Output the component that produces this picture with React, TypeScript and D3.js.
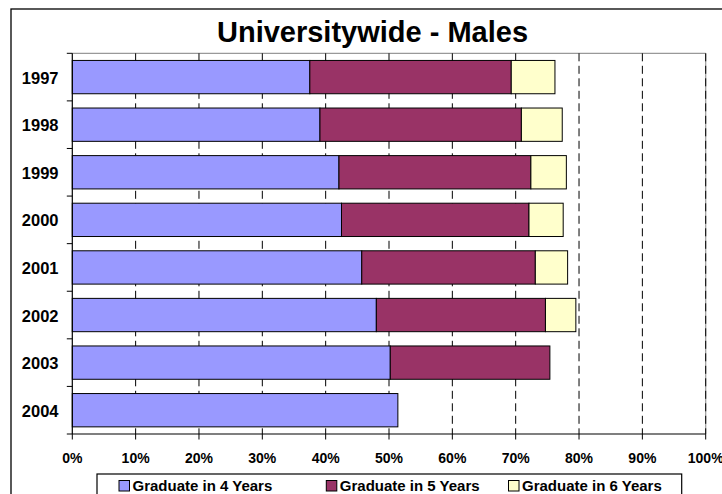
import React from "react";
import * as d3 from "d3";

const years = ["1997", "1998", "1999", "2000", "2001", "2002", "2003", "2004"];
const grad4 = [37.5, 39.1, 42.1, 42.5, 45.7, 48.0, 50.2, 51.4];
const grad5 = [31.8, 31.8, 30.3, 29.6, 27.4, 26.7, 25.2, 0];
const grad6 = [6.9, 6.45, 5.6, 5.4, 5.1, 4.8, 0, 0];
const seriesNames = ["Graduate in 4 Years", "Graduate in 5 Years", "Graduate in 6 Years"];
const seriesColors = ["#9999FF", "#993366", "#FFFFCC"];
const xTicks = [0, 10, 20, 30, 40, 50, 60, 70, 80, 90, 100];
const title = "Universitywide - Males";

const FONT = "Arial, 'Liberation Sans', Helvetica, sans-serif";

export default function App() {
  const left = 72.3, right = 705.7, top = 53.3, bottom = 434;
  const x = d3.scaleLinear().domain([0, 100]).range([left, right]);
  const y = d3.scaleBand<string>().domain(years).range([top, bottom]).paddingInner(0.3).paddingOuter(0.15);
  const step = (bottom - top) / years.length;

  const table = years.map((yr, i) => ({ year: yr, s0: grad4[i], s1: grad5[i], s2: grad6[i] }));
  const stack = d3.stack<any>().keys(["s0", "s1", "s2"]);
  const layers = stack(table);

  const legendX = [119, 326.3, 508.5];

  return (
    <svg width={722} height={494} style={{ position: "absolute", left: 0, top: 0, background: "#fff" }} fontFamily={FONT}>
      <rect x={0} y={0} width={722} height={494} fill="#fff" />
      {/* outer chart border */}
      <rect x={11} y={9} width={760} height={520} fill="#fff" stroke="#000" strokeWidth={1.3} />
      <text x={372.5} y={41.5} textAnchor="middle" fontSize={29} fontWeight="bold" fill="#000">{title}</text>

      {/* plot border */}
      <line x1={left} x2={right} y1={top} y2={top} stroke="#999" strokeWidth={1.2} />
      <line x1={right} x2={right} y1={top} y2={bottom} stroke="#999" strokeWidth={1.2} />

      {/* gridlines */}
      {xTicks.filter(t => t > 0).map(t => (
        <line key={"g" + t} x1={x(t)} x2={x(t)} y1={top} y2={bottom} stroke="#000" strokeWidth={1} strokeDasharray="8,4.5" />
      ))}

      {/* bars */}
      {layers.map((layer, li) => (
        <g key={"l" + li}>
          {layer.map((d, i) => {
            const w = x(d[1]) - x(d[0]);
            if (w <= 0.01) return null;
            return (
              <rect key={i} x={x(d[0])} y={y(years[i])} width={w} height={y.bandwidth()}
                fill={seriesColors[li]} stroke="#000" strokeWidth={1} />
            );
          })}
        </g>
      ))}

      {/* axes */}
      <line x1={left} x2={left} y1={top} y2={bottom} stroke="#000" strokeWidth={1.2} />
      <line x1={left} x2={right} y1={bottom} y2={bottom} stroke="#000" strokeWidth={1.2} />
      {years.map((yr, i) => (
        <line key={"yt" + i} x1={left - 5.5} x2={left} y1={top + i * step} y2={top + i * step} stroke="#000" strokeWidth={1} />
      ))}
      <line x1={left - 5.5} x2={left} y1={bottom} y2={bottom} stroke="#000" strokeWidth={1} />
      {xTicks.map(t => (
        <line key={"xt" + t} x1={x(t)} x2={x(t)} y1={bottom} y2={bottom + 5.5} stroke="#000" strokeWidth={1} />
      ))}

      {/* labels */}
      {years.map(yr => (
        <text key={"yl" + yr} x={58.5} y={(y(yr) as number) + y.bandwidth() / 2 + 6.5} textAnchor="end" fontSize={16.5} fontWeight="bold" fill="#000">{yr}</text>
      ))}
      {xTicks.map(t => (
        <text key={"xl" + t} x={x(t)} y={462.7} textAnchor="middle" fontSize={14} fontWeight="bold" fill="#000">{t + "%"}</text>
      ))}

      {/* legend */}
      <rect x={97} y={474} width={584.7} height={40} fill="#fff" stroke="#000" strokeWidth={1.2} />
      {seriesNames.map((name, i) => (
        <g key={"lg" + i}>
          <rect x={legendX[i]} y={480.5} width={10.5} height={10.5} fill={seriesColors[i]} stroke="#000" strokeWidth={1} />
          <text x={legendX[i] + 13.5} y={491} fontSize={15} fontWeight="bold" fill="#000">{name}</text>
        </g>
      ))}
    </svg>
  );
}
